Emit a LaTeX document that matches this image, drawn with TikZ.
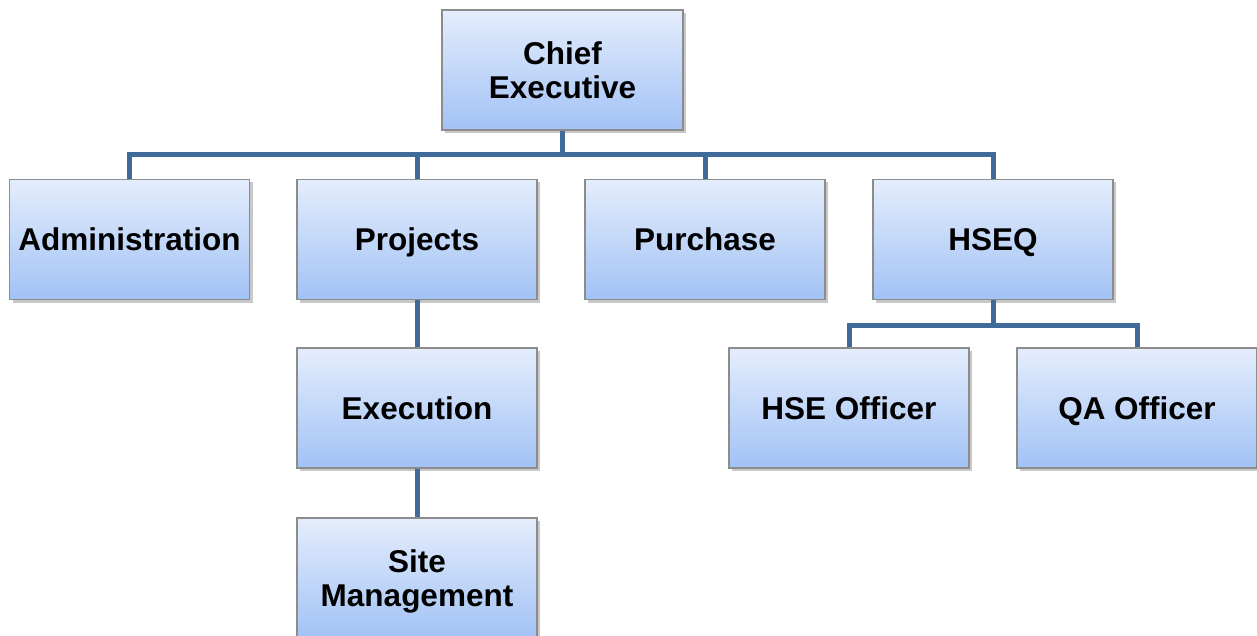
\documentclass[tikz,border=0pt]{standalone}
\usepackage{fontspec}
\setmainfont{Liberation Sans}
\usetikzlibrary{shadows}
\definecolor{conn}{RGB}{64,106,153}
\definecolor{boxtop}{RGB}{228,237,252}
\definecolor{boxbot}{RGB}{162,194,245}
\definecolor{boxline}{RGB}{140,140,140}
\tikzset{
  orgbox/.style={rectangle, draw=boxline, line width=1.2pt,
    top color=boxtop, bottom color=boxbot,
    minimum width=240pt, minimum height=120pt, align=center,
    font=\fontsize{31.5}{34}\selectfont\bfseries, inner sep=2pt, text depth=0pt,
    drop shadow={shadow xshift=3pt, shadow yshift=-3pt, opacity=0.3, fill=black!70}},
  link/.style={draw=conn, line width=5pt}
}
\begin{document}
\begin{tikzpicture}[x=1pt,y=-1pt]
\useasboundingbox (0,0) rectangle (1257,636);
\clip (0,0) rectangle (1257,636);
\fill[white] (0,0) rectangle (1257,636);
\node[orgbox, minimum width=241pt] (ce) at (562.5,70) {Chief\\Executive};
\node[orgbox] (adm) at (129.5,239.5) {Administration};
\node[orgbox] (prj) at (417,239.5) {Projects};
\node[orgbox] (pur) at (705,239.5) {Purchase};
\node[orgbox] (hseq) at (993,239.5) {HSEQ};
\node[orgbox] (exe) at (417,408) {Execution};
\node[orgbox] (site) at (417,578) {Site\\Management};
\node[orgbox] (hse) at (849,408) {HSE Officer};
\node[orgbox] (qa) at (1137,408) {QA Officer};
\coordinate (bus) at (562.5,155);
\coordinate (bus2) at (993,325);
\draw[link] (ce.south) -- (bus) -| (adm.north);
\draw[link] (bus) -| (hseq.north);
\draw[link] (bus) -| (prj.north);
\draw[link] (bus) -| (pur.north);
\draw[link] (prj.south) -- (exe.north);
\draw[link] (exe.south) -- (site.north);
\draw[link] (hseq.south) -- (bus2) -| (hse.north);
\draw[link] (bus2) -| (qa.north);
\end{tikzpicture}
\end{document}
